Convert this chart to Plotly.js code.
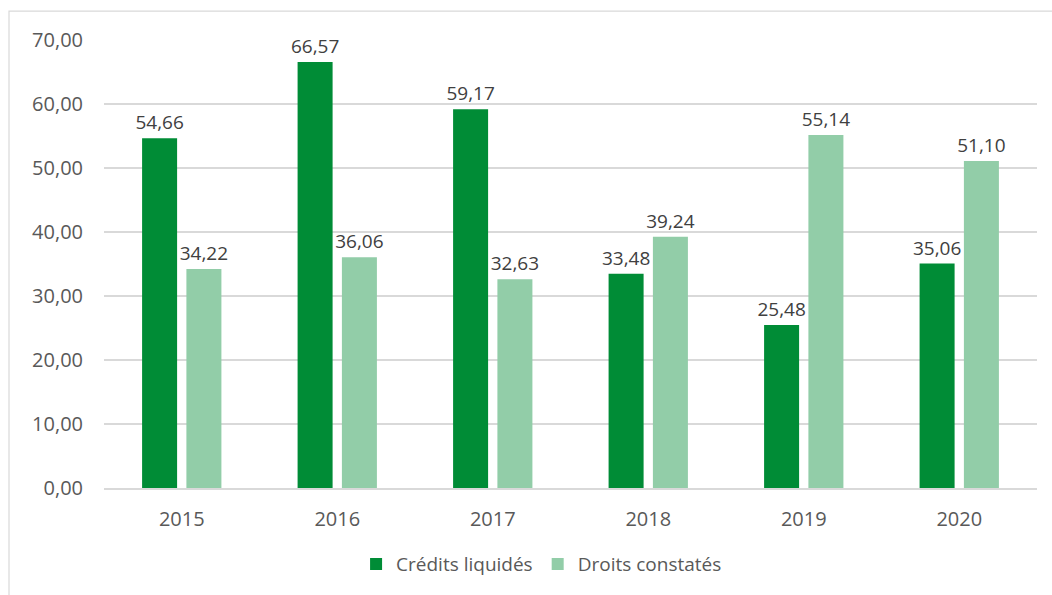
<!DOCTYPE html>
<html>
<head>
<meta charset="utf-8">
<script src="https://cdn.plot.ly/plotly-3.0.1.min.js"></script>
<style>html,body{margin:0;padding:0;background:#fff;}#chart{width:1052px;height:595px;}</style>
</head>
<body>
<div id="chart"></div>
<script>
const years = ['2015', '2016', '2017', '2018', '2019', '2020'];
const creditsLiquides = [54.66, 66.57, 59.17, 33.48, 25.48, 35.06];
const droitsConstates = [34.22, 36.06, 32.63, 39.24, 55.14, 51.10];
const seriesNames = ['Crédits liquidés', 'Droits constatés'];
const yTicks = [0, 10, 20, 30, 40, 50, 60, 70];

const font = '"Open Sans", Lato, sans-serif';
const labelFont = {size: 19, color: '#404040', family: font};
const traces = [
  {type: 'bar', name: seriesNames[0], x: years, y: creditsLiquides,
   marker: {color: '#008C36'}, texttemplate: '%{y:.2f}', textposition: 'outside', constraintext: 'none',
   textfont: labelFont, cliponaxis: false, hoverinfo: 'x+y'},
  {type: 'bar', name: seriesNames[1], x: years, y: droitsConstates,
   marker: {color: '#92CDA8'}, texttemplate: '%{y:.2f}', textposition: 'outside', constraintext: 'none',
   textfont: labelFont, cliponaxis: false, hoverinfo: 'x+y'}
];
const layout = {
  width: 1052, height: 595,
  margin: {l: 104, r: 15, t: 40, b: 104},
  separators: ', ',
  font: {family: font, color: '#595959', size: 20},
  paper_bgcolor: '#fff', plot_bgcolor: '#fff',
  barmode: 'group', bargap: 0.43, bargroupgap: 0.21,
  showlegend: true,
  legend: {orientation: 'h', x: 0.469, xanchor: 'center', y: -0.17, yanchor: 'middle',
           font: {size: 19, color: '#595959'}, itemwidth: 30, tracegroupgap: 0},
  xaxis: {type: 'category', showgrid: false, showline: true, linecolor: '#D9D9D9', linewidth: 1.5,
          ticks: '', tickfont: {size: 20, color: '#595959'}, ticklabelstandoff: 12, automargin: false},
  yaxis: {range: [0, 70], tickvals: yTicks, tickformat: '.2f', showgrid: true, gridcolor: '#D9D9D9',
          gridwidth: 1.5, zeroline: false, showline: false, ticks: '', ticklen: 0, ticklabelstandoff: 20,
          tickfont: {size: 20, color: '#595959'}, automargin: false},
  shapes: [{type: 'rect', xref: 'paper', yref: 'paper', x0: (9 - 104) / 933, x1: 1.2,
            y0: -0.4, y1: (491 - 11) / 451, line: {color: '#D9D9D9', width: 1.2}, fillcolor: 'rgba(0,0,0,0)', layer: 'below'}]
};
Plotly.newPlot('chart', traces, layout, {displayModeBar: false, staticPlot: true});
</script>
</body>
</html>
